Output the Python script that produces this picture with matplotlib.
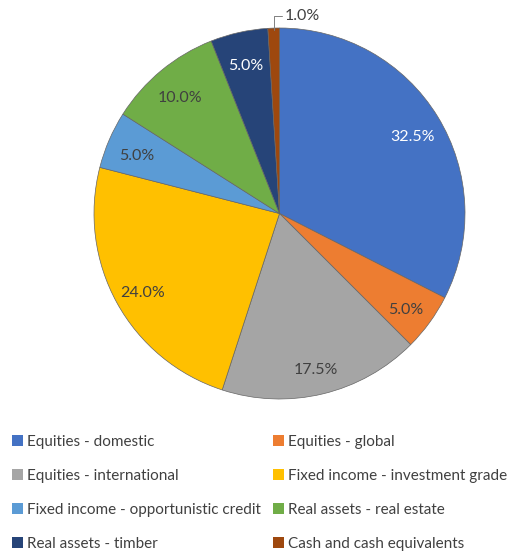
import matplotlib.pyplot as plt
from matplotlib.patches import Patch

categories = ["Equities - domestic", "Equities - global", "Equities - international",
              "Fixed income - investment grade", "Fixed income - opportunistic credit",
              "Real assets - real estate", "Real assets - timber", "Cash and cash equivalents"]
weights = [32.5, 5.0, 17.5, 24.0, 5.0, 10.0, 5.0, 1.0]
colors = ["#4472C4", "#ED7D31", "#A5A5A5", "#FFC000", "#5B9BD5", "#70AD47", "#264478", "#9E480E"]
label_colors = ["white", "#404040", "#404040", "#404040", "#404040", "#404040", "white", "#404040"]

plt.rcParams['font.family'] = ['Lato', 'DejaVu Sans']
W, H = 514, 552
fig = plt.figure(figsize=(W / 100, H / 100), dpi=100)

# pie centre and radius in pixels
cx, cy, R = 279.5, 213.5, 185.5
ax = fig.add_axes([(cx - R) / W, (H - cy - R) / H, 2 * R / W, 2 * R / H])

wedges, texts, autotexts = ax.pie(
    weights, colors=colors, startangle=90, counterclock=False,
    autopct='%1.1f%%', pctdistance=0.84,
    wedgeprops=dict(edgecolor='#666666', linewidth=0.5))
ax.set_xlim(-1, 1)
ax.set_ylim(-1, 1)
ax.set_aspect('equal')

for t, c in zip(autotexts, label_colors):
    t.set_color(c)
    t.set_fontsize(11.5)
    x, y = t.get_position()
    t.set_position((x, y - 0.025))

# small cash slice gets its label outside with a leader line
autotexts[-1].set_visible(False)
ax.annotate(f"{weights[-1]:.1f}%", xy=(-0.03, 0.99), xytext=(0.03, 1.065),
            ha='left', va='center', fontsize=11.5, color='#404040',
            arrowprops=dict(arrowstyle='-', color='#808080', lw=0.7,
                            connectionstyle='angle,angleA=0,angleB=90,rad=0',
                            shrinkA=0, shrinkB=0))

handles = [Patch(facecolor=c, edgecolor='none') for c in colors]
legend_kw = dict(frameon=False, fontsize=11, labelcolor='#404040',
                 handlelength=0.7, handleheight=0.7, handletextpad=0.3,
                 labelspacing=1.3, loc='upper left', borderaxespad=0, borderpad=0)
fig.legend(handles[0::2], categories[0::2], bbox_to_anchor=(12 / W, 1 - 435 / H), **legend_kw)
fig.legend(handles[1::2], categories[1::2], bbox_to_anchor=(273 / W, 1 - 435 / H), **legend_kw)

fig.savefig("out.png", dpi=100)
